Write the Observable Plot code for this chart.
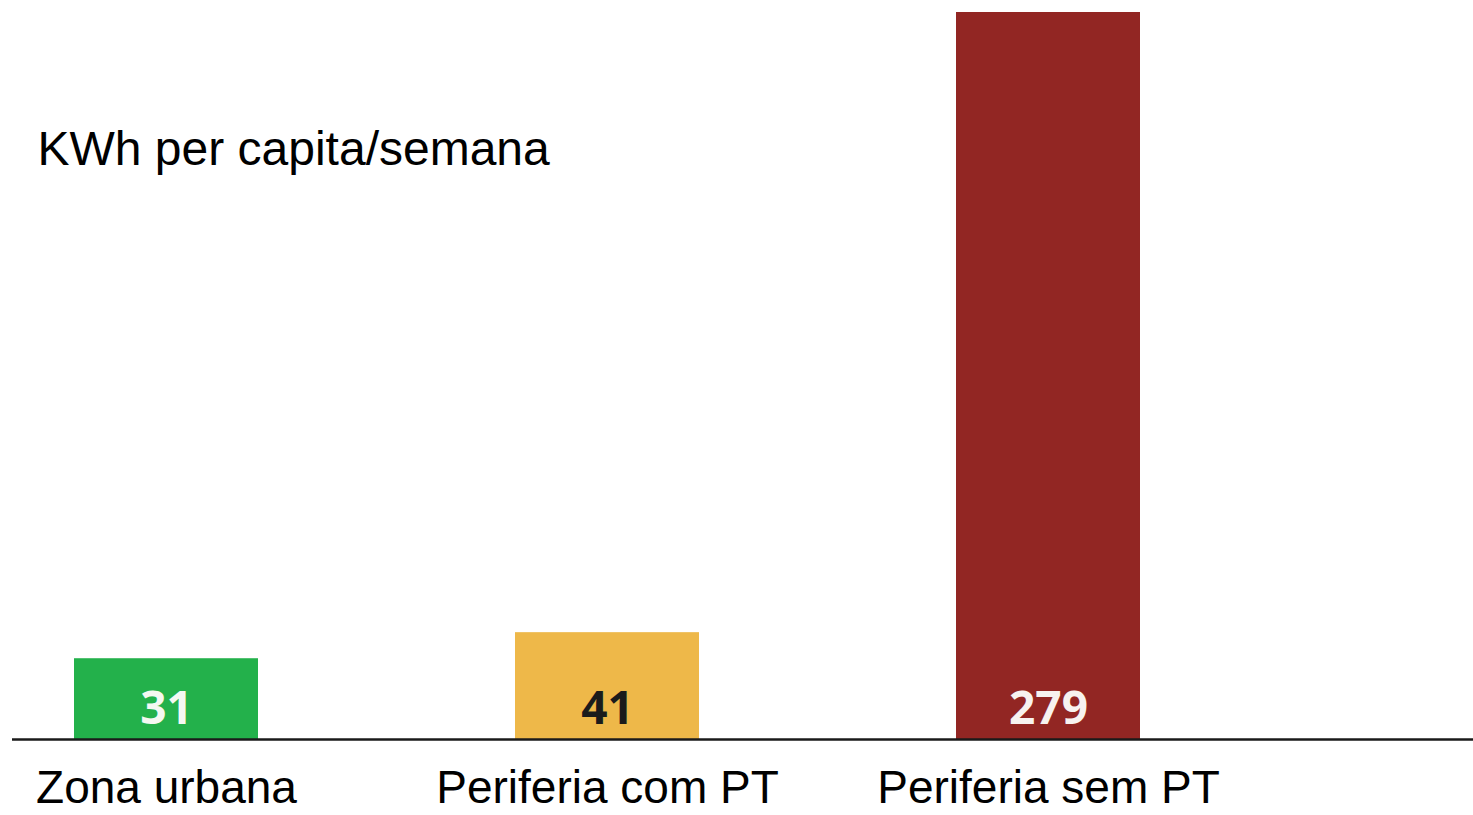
<!DOCTYPE html>
<html>
<head>
<meta charset="utf-8">
<script src="https://cdn.jsdelivr.net/npm/d3@7"></script>
<script src="https://cdn.jsdelivr.net/npm/@observablehq/plot@0.6"></script>
<style>
  html, body { margin: 0; padding: 0; background: #ffffff; }
  #chart svg { display: block; }
</style>
</head>
<body>
<div id="chart"></div>
<script>
const categories = ["Zona urbana", "Periferia com PT", "Periferia sem PT"];
const values = [31, 41, 279];
const barColors = ["#23b14b", "#eeb849", "#922623"];
const labelColors = ["#f4f8f2", "#1b1b1b", "#f7f2f0"];
const unitTitle = "KWh per capita/semana";

const data = categories.map((c, i) => ({category: c, value: values[i], labelColor: labelColors[i]}));

const chart = Plot.plot({
  width: 1473,
  height: 815,
  marginTop: 12,
  marginBottom: 76,
  marginLeft: 12,
  marginRight: 0,
  style: {background: "#ffffff", fontFamily: "'Liberation Sans', Arial, sans-serif", overflow: "visible"},
  x: {type: "band", domain: categories, paddingInner: 0.5837, paddingOuter: 0.4446, align: 0.158, label: null},
  y: {domain: [0, 279], axis: null},
  color: {domain: categories, range: barColors},
  marks: [
    Plot.barY(data, {x: "category", y: "value", fill: "category"}),
    Plot.text(data, {
      x: "category", y: 0, text: d => String(d.value), fill: "labelColor",
      dy: -30, lineAnchor: "middle", fontSize: 46, fontWeight: "bold",
      fontFamily: "'Open Sans', sans-serif"
    }),
    Plot.ruleY([0], {stroke: "#1a1a1a", strokeWidth: 2.5}),
    Plot.axisX({tickSize: 0, tickPadding: 31, fontSize: 46, fill: "#000", label: null,
      fontFamily: "'Liberation Sans', Arial, sans-serif"}),
    Plot.text([unitTitle], {
      frameAnchor: "top-left", textAnchor: "start", lineAnchor: "top",
      dx: 25, dy: 118, fontSize: 48, fill: "#000",
      fontFamily: "'Liberation Sans', Arial, sans-serif"
    })
  ]
});
document.getElementById("chart").appendChild(chart);
</script>
</body>
</html>
